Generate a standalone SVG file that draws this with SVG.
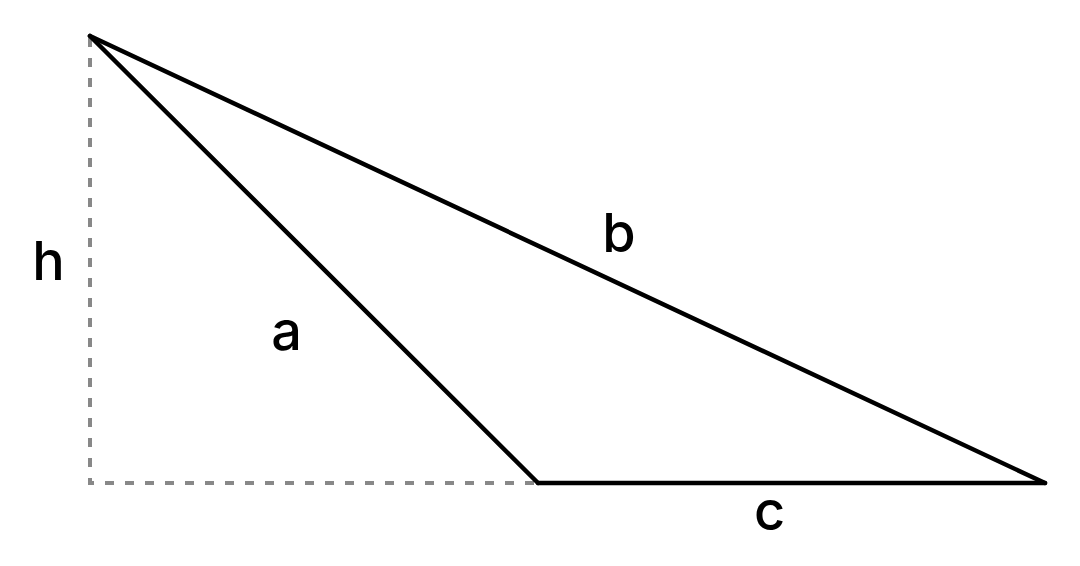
<svg xmlns="http://www.w3.org/2000/svg" width="1080" height="566" viewBox="0 0 1080 566">
<style>
.edge{fill:none;stroke:#000;stroke-width:4.5;stroke-linecap:round;stroke-linejoin:round}
.dash{fill:none;stroke:#888;stroke-width:4;stroke-dasharray:9 11}
.lbl{font-family:Inter,"Liberation Sans",sans-serif;font-size:54px;font-weight:500;fill:#000;text-anchor:middle}
</style>
<rect width="1080" height="566" fill="#fff"/>
<g id="connectors">
<polyline class="dash" points="90,38 90,483 536,483"/>
<line class="edge" x1="90" y1="36" x2="538" y2="483"/>
<line class="edge" x1="90" y1="36" x2="1045" y2="483"/>
<line class="edge" x1="538" y1="483" x2="1045" y2="483"/>
</g>
<g id="label-h"><text class="lbl" x="48.5" y="280">h</text></g>
<g id="label-a"><text class="lbl" x="286.5" y="350">a</text></g>
<g id="label-b"><text class="lbl" x="619" y="252">b</text></g>
<g id="label-c"><text class="lbl" x="769.5" y="530">c</text></g>
</svg>
